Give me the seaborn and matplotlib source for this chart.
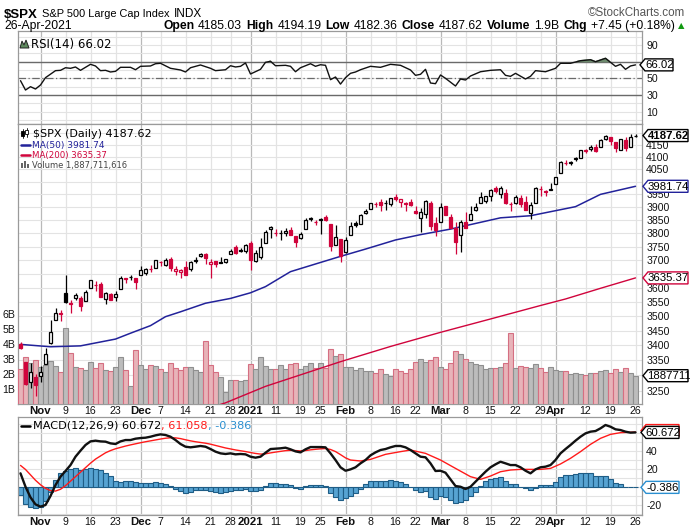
import numpy as np
import pandas as pd
import matplotlib
matplotlib.use("Agg")
import matplotlib.pyplot as plt
import seaborn as sns
from matplotlib import font_manager
from matplotlib.patches import Polygon, Rectangle
from matplotlib.lines import Line2D
from matplotlib.transforms import IdentityTransform
from matplotlib.ticker import NullLocator, FixedLocator, FixedFormatter

# ---------------- data ----------------
first_day = "2020-10-27"
last_day = "2021-04-26"
market_holidays = ["2020-11-26", "2020-12-25", "2021-01-01", "2021-01-18", "2021-02-15", "2021-04-02"]
prev_close = 3400.97

open_ = [3403.2, 3342.5, 3277.2, 3293.6, 3296.2, 3336.3, 3406.5, 3485.7, 3508.3, 3583.0,
         3543.3, 3563.2, 3562.7, 3552.6, 3600.2, 3610.3, 3612.1, 3559.4, 3579.3, 3566.8,
         3594.5, 3635.5, 3638.6, 3634.2, 3645.9, 3653.8, 3668.3, 3670.9, 3694.7, 3683.1,
         3705.9, 3659.1, 3656.1, 3675.3, 3666.4, 3696.3, 3713.7, 3722.4, 3684.3, 3698.1,
         3693.4, 3694.0, 3723.0, 3750.0, 3736.2, 3733.3, 3764.6, 3698.0, 3712.2, 3764.7,
         3815.1, 3803.1, 3801.6, 3802.2, 3814.0, 3788.7, 3781.9, 3816.2, 3857.5, 3844.2,
         3851.7, 3863.0, 3836.8, 3755.8, 3778.1, 3731.2, 3791.8, 3840.3, 3836.7, 3878.3,
         3892.6, 3910.5, 3920.8, 3916.4, 3911.7, 3939.6, 3918.5, 3915.9, 3921.2, 3885.6,
         3857.1, 3873.7, 3915.8, 3839.7, 3842.5, 3903.6, 3864.0, 3818.5, 3793.6, 3844.4,
         3851.9, 3891.0, 3915.5, 3924.5, 3943.0, 3973.6, 3949.6, 3953.5, 3913.1, 3916.5,
         3937.6, 3919.9, 3879.3, 3917.1, 3969.3, 3963.3, 3967.3, 3992.8, 4034.4, 4075.6,
         4074.3, 4090.0, 4096.1, 4124.7, 4130.1, 4141.6, 4139.8, 4174.1, 4179.8, 4159.2,
         4128.4, 4170.5, 4138.8, 4185.03]
high = [3409.5, 3342.5, 3341.1, 3304.9, 3330.1, 3389.5, 3486.3, 3529.1, 3521.6, 3646.0,
        3557.2, 3581.2, 3569.0, 3593.7, 3628.5, 3623.1, 3619.1, 3585.2, 3581.2, 3589.8,
        3642.3, 3635.5, 3644.3, 3634.2, 3678.5, 3670.9, 3682.7, 3699.2, 3697.4, 3708.5,
        3712.4, 3678.5, 3665.9, 3697.6, 3695.3, 3711.3, 3725.1, 3726.7, 3702.9, 3698.3,
        3711.2, 3703.8, 3740.5, 3756.1, 3744.6, 3760.2, 3769.9, 3737.8, 3783.0, 3811.6,
        3826.7, 3817.9, 3810.8, 3820.9, 3823.6, 3788.7, 3804.5, 3859.8, 3861.5, 3852.3,
        3859.2, 3870.9, 3836.8, 3830.5, 3778.1, 3784.3, 3843.1, 3847.5, 3872.4, 3894.6,
        3915.8, 3918.4, 3931.5, 3926.0, 3937.2, 3950.4, 3933.6, 3921.0, 3930.4, 3902.9,
        3896.0, 3928.7, 3925.0, 3861.1, 3914.5, 3906.4, 3874.5, 3843.7, 3851.7, 3881.1,
        3903.8, 3917.4, 3960.3, 3945.0, 3970.1, 3981.0, 3983.9, 3969.6, 3921.0, 3949.1,
        3949.1, 3942.1, 3919.5, 3978.2, 3981.8, 3968.0, 3994.4, 4020.6, 4083.4, 4086.2,
        4083.1, 4098.2, 4129.5, 4131.8, 4148.0, 4151.7, 4173.5, 4191.3, 4180.8, 4159.2,
        4175.0, 4179.6, 4194.2, 4194.19]
low = [3388.7, 3268.9, 3259.8, 3233.9, 3279.7, 3336.3, 3405.2, 3485.7, 3484.3, 3547.5,
       3511.9, 3557.0, 3518.6, 3552.6, 3600.2, 3588.7, 3567.3, 3543.8, 3556.9, 3552.8,
       3594.5, 3617.8, 3629.3, 3594.4, 3645.9, 3644.8, 3657.2, 3670.9, 3678.9, 3678.8,
       3660.5, 3645.2, 3633.4, 3645.8, 3659.6, 3688.6, 3710.9, 3685.8, 3636.5, 3676.2,
       3689.3, 3689.3, 3723.0, 3723.3, 3730.2, 3726.9, 3662.7, 3695.1, 3705.3, 3764.7,
       3783.6, 3789.0, 3776.5, 3791.5, 3792.9, 3749.6, 3780.4, 3816.2, 3845.1, 3830.4,
       3797.2, 3847.8, 3732.5, 3755.8, 3694.1, 3725.6, 3791.8, 3822.7, 3836.7, 3874.9,
       3892.6, 3902.6, 3884.9, 3890.4, 3905.8, 3923.9, 3900.4, 3885.0, 3903.1, 3874.7,
       3805.6, 3859.6, 3814.0, 3789.5, 3842.5, 3868.6, 3818.9, 3723.3, 3730.2, 3819.3,
       3851.9, 3885.7, 3915.5, 3915.2, 3923.5, 3953.4, 3935.7, 3914.1, 3885.2, 3914.2,
       3901.6, 3889.1, 3853.5, 3917.1, 3943.3, 3944.4, 3967.0, 3992.8, 4034.4, 4068.1,
       4068.3, 4082.5, 4095.5, 4114.8, 4124.4, 4120.9, 4139.8, 4170.8, 4150.5, 4118.4,
       4126.4, 4123.7, 4138.8, 4182.36]
close = [3390.68, 3271.03, 3310.11, 3269.96, 3310.24, 3369.16, 3443.44, 3510.45, 3509.44, 3550.50,
         3545.53, 3572.66, 3537.01, 3585.15, 3626.91, 3609.53, 3567.79, 3581.87, 3557.54, 3577.59,
         3635.41, 3629.65, 3638.35, 3621.63, 3662.45, 3669.01, 3666.72, 3699.12, 3691.96, 3702.25,
         3672.82, 3668.10, 3663.46, 3647.49, 3694.62, 3701.17, 3722.48, 3709.41, 3694.92, 3687.26,
         3690.01, 3703.06, 3735.36, 3727.04, 3732.04, 3756.07, 3700.65, 3726.86, 3748.14, 3803.79,
         3824.68, 3799.61, 3801.19, 3809.84, 3795.54, 3768.25, 3798.91, 3851.85, 3853.07, 3841.47,
         3855.36, 3849.62, 3750.77, 3787.38, 3714.24, 3773.86, 3826.31, 3830.17, 3871.74, 3886.83,
         3915.59, 3911.23, 3909.88, 3916.38, 3934.83, 3932.59, 3931.33, 3913.97, 3906.71, 3876.50,
         3881.37, 3925.43, 3829.34, 3811.15, 3901.82, 3870.29, 3819.72, 3768.47, 3841.94, 3821.35,
         3875.44, 3898.81, 3939.34, 3943.34, 3968.94, 3962.71, 3974.12, 3915.46, 3913.10, 3940.59,
         3910.52, 3889.14, 3909.52, 3974.54, 3971.09, 3958.55, 3972.89, 4019.87, 4077.91, 4073.94,
         4079.95, 4097.17, 4128.80, 4127.99, 4141.59, 4124.66, 4170.42, 4185.47, 4163.26, 4134.94,
         4173.42, 4134.98, 4180.17, 4187.62]
volume_b = [2.35, 3.13, 2.73, 2.91, 2.47, 2.58, 2.87, 2.53, 2.13, 5.05,
            3.38, 2.44, 2.38, 2.27, 2.80, 2.40, 2.76, 2.27, 2.20, 2.44,
            3.13, 2.24, 1.20, 3.58, 2.60, 2.31, 2.60, 2.53, 2.31, 2.16,
            2.73, 2.42, 2.24, 2.49, 2.47, 2.24, 2.13, 4.20, 2.60, 2.13,
            1.80, 0.82, 1.60, 1.60, 1.53, 1.60, 2.69, 2.33, 3.13, 2.53,
            2.33, 2.33, 2.60, 2.31, 2.69, 2.73, 2.36, 2.53, 2.73, 2.40,
            2.75, 2.40, 3.70, 3.20, 3.33, 2.44, 2.44, 2.27, 2.38, 2.20,
            2.20, 2.04, 2.31, 2.00, 1.87, 2.31, 2.20, 2.04, 2.31, 2.78,
            3.00, 2.80, 2.93, 3.11, 2.49, 2.31, 2.71, 3.53, 3.33, 2.98,
            2.80, 2.67, 2.60, 2.31, 2.38, 2.38, 2.44, 2.76, 4.71, 2.38,
            2.53, 2.49, 2.42, 2.67, 2.38, 2.13, 2.44, 2.27, 2.20, 2.20,
            2.00, 2.09, 2.00, 1.93, 2.04, 2.04, 2.20, 2.27, 2.04, 2.31,
            2.13, 2.38, 2.04, 1.887711616]

ma50_day = [0, 6, 12, 19, 22, 26, 29, 32, 37, 42, 46, 49, 54, 59, 64, 69, 75, 80, 86, 96, 102, 111, 116, 123]
ma50_val = [3403, 3395, 3398, 3421, 3441, 3467, 3498, 3515, 3545, 3562, 3582, 3604, 3658, 3686,
            3714, 3741, 3775, 3795, 3816, 3859, 3867, 3902, 3950, 3981.74]
ma200_day = [38, 41, 49, 64, 74, 84, 94, 104, 109, 116, 123]
ma200_val = [3196, 3211, 3264, 3345, 3396, 3444, 3490, 3537, 3560, 3598, 3635.37]

rsi_day = [0, 1, 2, 3, 4, 5, 7, 8, 9, 10, 11, 12, 14, 15, 16, 17, 18, 19, 20, 22, 23, 24, 26, 27, 28,
           30, 32, 33, 34, 36, 38, 39, 41, 42, 43, 44, 45, 46, 48, 49, 50, 51, 53, 54, 55, 56, 58, 59,
           60, 61, 62, 63, 64, 65, 66, 67, 68, 70, 72, 74, 76, 78, 79, 80, 81, 82, 83, 84, 85, 87, 88,
           89, 90, 92, 94, 96, 97, 98, 99, 101, 102, 103, 105, 107, 108, 110, 112, 114, 115, 117, 119,
           120, 121, 122, 123]
rsi_val = [47.1, 35.9, 39.9, 37.1, 41.9, 50.7, 59.1, 59.5, 62.6, 61.9, 63.5, 59.5, 66.7, 64.7, 59.1,
           59.5, 57.5, 58.3, 63.1, 63.1, 60.2, 64.3, 64.7, 67.4, 67.9, 61.9, 59.9, 57.5, 62.6, 65.9,
           61.9, 59.1, 60.2, 65.0, 63.5, 64.3, 68.3, 55.1, 60.7, 69.1, 70.3, 65.0, 65.5, 64.3, 57.8,
           62.6, 67.4, 64.3, 66.2, 65.5, 48.3, 51.5, 43.0, 50.7, 55.9, 57.5, 60.2, 64.3, 63.1, 66.7,
           65.5, 59.9, 53.5, 54.7, 60.7, 44.3, 43.5, 53.9, 49.9, 40.7, 49.1, 47.9, 52.7, 57.8, 59.5,
           60.2, 53.5, 52.3, 55.9, 49.1, 52.3, 59.1, 57.8, 61.9, 67.9, 67.9, 71.0, 72.2, 69.8, 73.9,
           64.3, 66.7, 60.7, 64.7, 66.02]

macd = [15.2, 0.3, -11.5, -19.3, -21.8, -20.0, -10.0, 2.2, 11.5, 17.8,
        24.4, 33.7, 40.4, 46.7, 50.7, 51.5, 50.7, 50.4, 48.5, 47.8,
        50.7, 52.2, 52.2, 53.7, 54.4, 54.8, 55.9, 57.4, 58.5, 57.8,
        55.9, 52.2, 47.8, 44.8, 44.1, 44.8, 45.6, 44.8, 42.2, 39.3,
        37.4, 36.7, 37.4, 36.3, 36.7, 36.3, 33.7, 32.6, 33.7, 38.1,
        42.2, 42.6, 43.0, 43.7, 41.9, 39.6, 38.5, 41.9, 44.4, 44.4,
        44.4, 44.1, 37.4, 30.0, 21.9, 18.1, 19.6, 21.9, 26.3, 30.0,
        35.2, 38.5, 41.1, 42.2, 44.1, 45.6, 45.6, 44.1, 41.1, 37.4,
        33.7, 33.0, 26.3, 17.8, 18.1, 15.9, 8.5, 1.1, 0.3, -2.2,
        0.3, 5.9, 11.5, 17.0, 21.9, 25.2, 28.1, 26.3, 24.4, 24.4,
        21.9, 18.1, 15.2, 19.6, 21.9, 22.6, 24.4, 30.0, 37.4, 42.2,
        46.7, 51.5, 55.9, 59.6, 61.5, 62.2, 65.2, 68.9, 67.0, 64.1,
        63.3, 61.5, 60.4, 60.672]
signal_day = list(range(0, 66)) + [66, 68, 70, 73, 76, 78, 81, 84, 87, 90, 92, 94, 96, 98, 100,
                                   104, 106, 108, 110, 112, 114, 116, 118, 120, 123]
signal_val = [24.0, 19.5, 13.5, 7.5, 2.5, -1.5, -4.0, -4.5, -2.5, 1.5,
              6.5, 11.5, 16.5, 21.5, 26.5, 31.0, 34.5, 38.0, 40.5, 42.5,
              44.0, 45.5, 46.8, 48.0, 49.2, 50.3, 51.3, 52.3, 53.3, 54.2,
              54.7, 54.6, 53.8, 52.5, 51.3, 50.3, 49.5, 48.7, 47.6, 46.2,
              44.8, 43.4, 42.3, 41.2, 40.3, 39.4, 38.3, 37.3, 36.6, 36.9,
              37.9, 38.8, 39.6, 40.4, 40.7, 40.5, 40.1, 40.5, 41.3, 41.9,
              42.4, 42.8, 41.7, 39.4, 36.0, 32.4,
              30.0, 28.9, 30.7, 36.3, 39.3, 41.1, 37.4, 30.0, 20.7, 11.5, 8.5, 12.2, 17.0, 18.9, 19.6,
              19.6, 20.7, 25.6, 31.9, 39.3, 47.4, 54.1, 58.5, 60.4, 61.058]
hist = [-8.9, -18.9, -22.6, -23.7, -21.9, -15.2, -5.2, 7.8, 15.2, 18.1,
        20.4, 20.7, 18.9, 20.0, 20.7, 20.4, 18.9, 15.9, 12.2, 7.0,
        5.9, 6.7, 6.7, 5.6, 4.4, 4.4, 4.4, 5.2, 4.8, 3.3,
        0.7, -2.2, -4.4, -6.7, -5.2, -3.7, -3.3, -3.7, -4.4, -5.6,
        -6.3, -5.6, -4.1, -3.3, -3.3, -2.2, -4.1, -4.8, -3.3, 1.1,
        4.4, 4.4, 3.7, 3.7, 1.9, -1.5, -2.2, 1.1, 1.9, 1.9,
        1.9, 1.1, -7.0, -11.5, -14.4, -12.6, -10.0, -6.3, -2.6, 3.3,
        6.3, 6.3, 6.3, 6.3, 7.4, 6.3, 5.6, 3.3, -0.4, -3.3,
        -5.6, -4.1, -11.5, -13.7, -10.0, -11.5, -14.4, -18.1, -16.3, -14.4,
        -10.0, -5.2, 0.7, 6.7, 8.9, 9.6, 10.7, 6.7, 3.3, 3.3,
        -0.4, -1.5, -3.3, -0.7, 1.9, 1.9, 1.9, 5.9, 10.7, 13.0,
        13.3, 14.4, 15.6, 15.9, 15.9, 12.2, 12.2, 12.2, 8.5, 4.8,
        3.3, 0.4, 0.0, -0.386]

tick_dates = ["2020-11-02", "2020-11-09", "2020-11-16", "2020-11-23", "2020-12-01", "2020-12-07",
              "2020-12-14", "2020-12-21", "2020-12-28", "2021-01-04", "2021-01-11", "2021-01-19",
              "2021-01-25", "2021-02-01", "2021-02-08", "2021-02-16", "2021-02-22", "2021-03-01",
              "2021-03-08", "2021-03-15", "2021-03-22", "2021-03-29", "2021-04-01", "2021-04-12",
              "2021-04-19", "2021-04-26"]
tick_labels = ["Nov", "9", "16", "23", "Dec", "7", "14", "21", "28", "2021", "11", "19", "25",
               "Feb", "8", "16", "22", "Mar", "8", "15", "22", "29", "Apr", "12", "19", "26"]
month_labels = ["Nov", "Dec", "2021", "Feb", "Mar", "Apr"]

price_grid = list(range(3250, 4201, 50))
# levels whose labels sit under the value tags are left unlabelled
price_ticks = [v for v in price_grid if v not in (4200, 4000, 3650, 3300)]
rsi_ticks = [10, 30, 50, 90]
macd_ticks = [-20, 20, 40]
vol_ticks = [1, 2, 3, 4, 5, 6]

# ---------------- style ----------------
sns.set_theme(style="white")
avail = {f.name for f in font_manager.fontManager.ttflist}
NARROW = "Liberation Sans Narrow" if "Liberation Sans Narrow" in avail else "Liberation Sans"
plt.rcParams["font.family"] = ["Liberation Sans", "DejaVu Sans"]

W, H = 690, 531
fig = plt.figure(figsize=(W / 100, H / 100), dpi=100)
fig.patch.set_facecolor("white")
renderer = fig.canvas.get_renderer()

L, R = 18, 642
def rect(top, bottom):
    return [L / W, 1 - bottom / H, (R - L) / W, (bottom - top) / H]

dates = pd.bdate_range(first_day, last_day)
dates = dates[~dates.isin(pd.to_datetime(market_holidays))]
n = len(dates)
xs = np.arange(n)
tick_pos = [dates.get_loc(pd.Timestamp(d)) for d in tick_dates]
XLIM = (-0.5, 124.3)

GRID = "#e3e3e3"
MGRID = "#b9b9b9"
SPINE = "#9a9a9a"
RED = "#d0043c"
NAVY = "#22229a"

def base_axes(rc, zorder=0):
    ax = fig.add_axes(rc, zorder=zorder)
    ax.set_xlim(*XLIM)
    for s in ax.spines.values():
        s.set_color(SPINE)
        s.set_linewidth(0.9)
    for p, lab in zip(tick_pos, tick_labels):
        ax.axvline(p, color=MGRID if lab in month_labels else GRID, lw=0.9, zorder=0)
    return ax

def xlabels(ax, show):
    ax.xaxis.set_major_locator(FixedLocator(tick_pos))
    ax.xaxis.set_major_formatter(FixedFormatter(tick_labels))
    ax.tick_params(axis="x", length=0, pad=1.5, labelbottom=show, labelsize=7.6, colors="#111111")
    if show:
        for t in ax.get_xticklabels():
            if t.get_text() in month_labels:
                t.set_fontweight("bold")
                t.set_fontsize(8.2)

# ---------------- RSI panel ----------------
ax_rsi = base_axes(rect(31, 124))
ax_rsi.set_ylim(-4.8, 106.6)
for v in range(0, 101, 10):
    ax_rsi.axhline(v, color=GRID, lw=0.8, zorder=0)
ax_rsi.axhline(70, color="#6a6a6a", lw=1.0, zorder=1)
ax_rsi.axhline(30, color="#6a6a6a", lw=1.0, zorder=1)
ax_rsi.axhline(50, color="#6a6a6a", lw=0.9, ls=(0, (6, 2, 1, 2)), zorder=1)
rd = np.array(rsi_day, dtype=float)
rv = np.array(rsi_val)
ax_rsi.fill_between(rd, rv, 70, where=rv > 70, interpolate=True, color="#6d8a6d", zorder=2)
sns.lineplot(x=rd, y=rv, ax=ax_rsi, color="#111111", linewidth=1.0, sort=False, zorder=3)
ax_rsi.set_xlabel(""); ax_rsi.set_ylabel("")
xlabels(ax_rsi, False)
ax_rsi.yaxis.tick_right()
ax_rsi.set_yticks(rsi_ticks)
ax_rsi.set_yticklabels([str(v) for v in rsi_ticks])
ax_rsi.tick_params(axis="y", length=0, pad=3, labelsize=7.6, colors="#111111")

# ---------------- price panel ----------------
PLIM = (3207.3, 4236.0)
ax_bg = base_axes(rect(124, 404), zorder=0)
ax_bg.set_yscale("log")
ax_bg.set_ylim(*PLIM)
for v in price_grid:
    ax_bg.axhline(v, color=GRID, lw=0.8, zorder=0)
ax_bg.yaxis.set_major_locator(NullLocator())
ax_bg.yaxis.set_minor_locator(NullLocator())
xlabels(ax_bg, True)

ax_vol = fig.add_axes(rect(124, 404), zorder=1, sharex=ax_bg)
ax_vol.patch.set_alpha(0)
for s in ax_vol.spines.values():
    s.set_visible(False)
ax_vol.set_ylim(0, 280 / 15)
vcol, vedge = [], []
for i in range(n):
    pc = close[i - 1] if i > 0 else prev_close
    if close[i] < pc:
        vcol.append("#e8b3b9"); vedge.append("#d56f82")
    else:
        vcol.append("#bcbcbc"); vedge.append("#8f8f8f")
ax_vol.bar(xs, volume_b, width=1.0, color=vcol, edgecolor=vedge, linewidth=0.8, zorder=2)
ax_vol.set_yticks(vol_ticks)
ax_vol.set_yticklabels([f"{v}B" for v in vol_ticks])
ax_vol.tick_params(axis="y", length=0, pad=2, labelsize=7.6, colors="#111111")
ax_vol.tick_params(axis="x", length=0, labelbottom=False)

ax_p = fig.add_axes(rect(124, 404), zorder=2, sharex=ax_bg)
ax_p.patch.set_alpha(0)
for s in ax_p.spines.values():
    s.set_visible(False)
ax_p.set_yscale("log")
ax_p.set_ylim(*PLIM)
sns.lineplot(x=ma200_day, y=ma200_val, ax=ax_p, color=RED, linewidth=1.0, sort=False, zorder=2)
sns.lineplot(x=ma50_day, y=ma50_val, ax=ax_p, color=NAVY, linewidth=1.1, sort=False, zorder=2)
for i in range(n):
    pc = close[i - 1] if i > 0 else prev_close
    col = RED if close[i] < pc else "#000000"
    ax_p.vlines(xs[i], low[i], high[i], color=col, lw=0.9, zorder=3)
    o, c = open_[i], close[i]
    bot = min(o, c)
    hgt = max(abs(c - o), 0.6)
    face = "white" if c >= o else col
    ax_p.bar(xs[i], hgt, bottom=bot, width=0.78, facecolor=face, edgecolor=col, linewidth=0.9, zorder=4)
ax_p.set_xlabel(""); ax_p.set_ylabel("")
ax_p.yaxis.tick_right()
ax_p.yaxis.set_major_locator(FixedLocator(price_ticks))
ax_p.yaxis.set_major_formatter(FixedFormatter([str(v) for v in price_ticks]))
ax_p.yaxis.set_minor_locator(NullLocator())
ax_p.tick_params(axis="y", which="both", length=0, pad=3, labelsize=7.6, colors="#111111")
ax_p.tick_params(axis="x", length=0, labelbottom=False)
ax_p.set_xlim(*XLIM)

# ---------------- MACD panel ----------------
ax_m = base_axes(rect(417, 515))
ax_m.set_ylim(-31.1, 77.8)
for v in range(-30, 80, 10):
    ax_m.axhline(v, color=GRID, lw=0.8, zorder=0)
ax_m.bar(xs, hist, width=1.0, color="#57a3d2", edgecolor="#1f5d86", linewidth=0.8, zorder=2)
sns.lineplot(x=signal_day, y=signal_val, ax=ax_m, color="#ff1a1a", linewidth=1.0, sort=False, zorder=3)
sns.lineplot(x=xs, y=macd, ax=ax_m, color="#111111", linewidth=1.7, sort=False, zorder=4)
ax_m.set_xlabel(""); ax_m.set_ylabel("")
xlabels(ax_m, True)
ax_m.yaxis.tick_right()
ax_m.set_yticks(macd_ticks)
ax_m.set_yticklabels([str(v) for v in macd_ticks])
ax_m.tick_params(axis="y", length=0, pad=3, labelsize=7.6, colors="#111111")
ax_m.set_xlim(*XLIM)

# ---------------- text helpers ----------------
def place(pieces, x0, ytop, size, target_w=None, family=None, gap=0.0):
    base = H - ytop
    fam = family or ["Liberation Sans", "DejaVu Sans"]
    def draw(sz):
        arts, x = [], x0
        for s, w, c in pieces:
            t = fig.text(x, base, s, transform=IdentityTransform(), fontsize=sz, fontweight=w,
                         color=c, family=fam, ha="left", va="baseline")
            x = t.get_window_extent(renderer).x1 + gap
            arts.append(t)
        return arts, x - gap
    arts, xe = draw(size)
    if target_w:
        w = xe - x0
        for a in arts:
            a.remove()
        arts, xe = draw(size * target_w / w)
    return xe

def tag(ax, val, text, ec, x0, x1, bold=False, dy=0.0, tc="#000000"):
    yd = ax.transData.transform((0, val))[1] + dy
    h = 6.0
    verts = [(x0, yd), (x0 + 5, yd + h), (x1, yd + h), (x1, yd - h), (x0 + 5, yd - h)]
    fig.add_artist(Polygon(verts, closed=True, transform=IdentityTransform(), facecolor="white",
                           edgecolor=ec, lw=1.0, zorder=20))
    if text:
        fig.text((x0 + 5 + x1) / 2 + 0.5, yd - 0.5, text, transform=IdentityTransform(), ha="center",
                 va="center", fontsize=8.2, fontweight="bold" if bold else "normal", color=tc,
                 family=["Liberation Sans", "DejaVu Sans"], zorder=21)

def pline(x0, x1, ytop, color, lw):
    fig.add_artist(Line2D([x0, x1], [H - ytop, H - ytop], transform=IdentityTransform(),
                          color=color, lw=lw, zorder=15))

# ---------------- header ----------------
place([("$SPX", "bold", "#000000")], 4, 18, 12, target_w=34, family=[NARROW, "DejaVu Sans"])
place([("S&P 500 Large Cap Index", "normal", "#000000")], 42, 17, 9, target_w=128,
      family=[NARROW, "DejaVu Sans"])
place([("INDX", "normal", "#000000")], 174, 17, 7.5, target_w=28, family=[NARROW, "DejaVu Sans"])
place([("\u00a9StockCharts.com", "normal", "#555555")], 588, 16, 8, target_w=98)
place([("26-Apr-2021", "normal", "#000000")], 4, 29, 8, target_w=68, family=[NARROW, "DejaVu Sans"])
hdr = [("Open", "bold", "#000"), ("4185.03", "normal", "#000"), ("High", "bold", "#000"),
       ("4194.19", "normal", "#000"), ("Low", "bold", "#000"), ("4182.36", "normal", "#000"),
       ("Close", "bold", "#000"), ("4187.62", "normal", "#000"), ("Volume", "bold", "#000"),
       ("1.9B", "normal", "#000"), ("Chg", "bold", "#000"), ("+7.45 (+0.18%)", "normal", "#000")]
place(hdr, 163, 29, 8.5, target_w=514, family=[NARROW, "DejaVu Sans"], gap=4)
fig.text(684, H - 28, "\u25b2", transform=IdentityTransform(), fontsize=6, color="#119911",
         family=["DejaVu Sans"], ha="right", va="baseline")

# ---------------- legends ----------------
fig.add_artist(Polygon([(20, H - 48), (22, H - 41), (24, H - 45), (26, H - 40), (29, H - 48)],
                       closed=True, transform=IdentityTransform(), facecolor="#5e8a5e",
                       edgecolor="#222222", lw=0.7, zorder=15))
place([("RSI(14) 66.02", "normal", "#000000")], 31, 48, 7.5, target_w=80, family=["DejaVu Sans"])

for cx, top in [(22.5, 129), (26.5, 128)]:
    fig.add_artist(Line2D([cx, cx], [H - top, H - top - 9], transform=IdentityTransform(),
                          color="#000000", lw=0.6, zorder=15))
fig.add_artist(Rectangle((21, H - 136), 3, 5, transform=IdentityTransform(), facecolor="#000000",
                         edgecolor="#000000", lw=0.6, zorder=16))
fig.add_artist(Rectangle((25, H - 134), 3, 4, transform=IdentityTransform(), facecolor="white",
                         edgecolor="#000000", lw=0.6, zorder=16))
place([("$SPX (Daily) 4187.62", "normal", "#000000")], 33, 137, 7.5, target_w=118,
      family=["DejaVu Sans"])
pline(21, 30, 144.5, NAVY, 1.8)
place([("MA(50) 3981.74", "normal", NAVY)], 32, 148, 6.8, target_w=73, family=["DejaVu Sans"])
pline(21, 30, 154.5, RED, 1.8)
place([("MA(200) 3635.37", "normal", RED)], 32, 158, 6.8, target_w=75, family=["DejaVu Sans"])
for bx, bh in [(21, 5), (24, 7), (27, 4)]:
    fig.add_artist(Rectangle((bx, H - 168), 2.2, bh, transform=IdentityTransform(),
                             facecolor="#666666", edgecolor="none", zorder=15))
place([("Volume 1,887,711,616", "normal", "#444444")], 32, 168, 6.8, target_w=95,
      family=["DejaVu Sans"])

pline(21, 30, 425.5, "#000000", 1.8)
place([("MACD(12,26,9) 60.672", "normal", "#000000"), (", 61.058", "normal", "#ff1a1a"),
       (", -0.386", "normal", "#2a8fd0")], 33, 429, 7.5, target_w=219, family=["DejaVu Sans"])

# ---------------- value tags ----------------
tag(ax_rsi, 66.02, "66.02", "#000000", 640, 673)
tag(ax_p, 4187.62, "4187.62", "#000000", 643, 688, bold=True)
tag(ax_p, 3981.74, "3981.74", NAVY, 643, 688)
tag(ax_p, 3635.37, "3635.37", RED, 643, 688)
tag(ax_vol, 1.887711616, "1887711", "#000000", 643, 688)
tag(ax_m, 61.058, "", "#ff1a1a", 641, 679, dy=1.5)
tag(ax_m, 60.672, "60.672", "#000000", 641, 679)
tag(ax_m, -0.386, "-0.386", "#2a8fd0", 641, 679)

fig.savefig("out.png", dpi=100)
